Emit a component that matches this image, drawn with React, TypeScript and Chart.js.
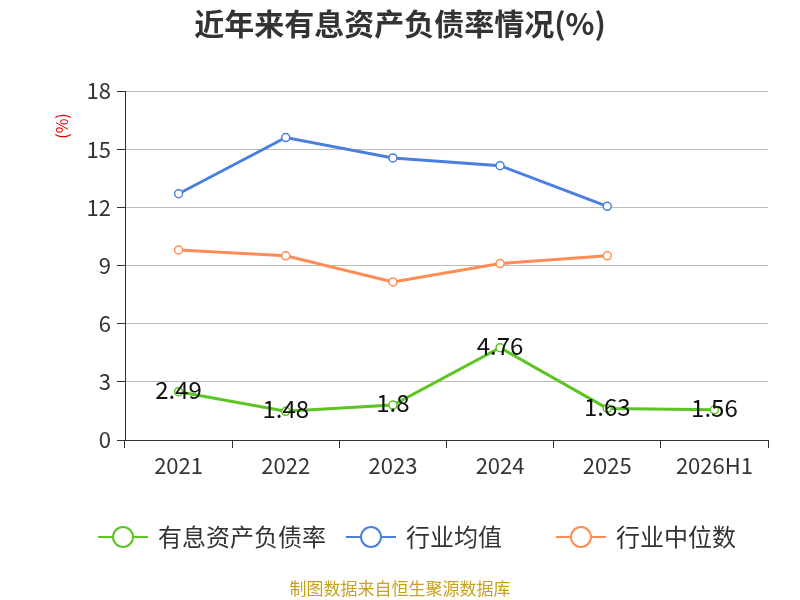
import React, { useEffect, useRef } from "react";
import { Chart, registerables } from "chart.js";
Chart.register(...registerables);

const categories = ["2021", "2022", "2023", "2024", "2025", "2026H1"];
const debtRatio = [2.49, 1.48, 1.8, 4.76, 1.63, 1.56];
const industryAvg = [12.7, 15.6, 14.55, 14.15, 12.05, null];
const industryMedian = [9.8, 9.5, 8.15, 9.1, 9.5, null];
const yTicks = [0, 3, 6, 9, 12, 15, 18];
const seriesNames = ["有息资产负债率", "行业均值", "行业中位数"];
const colors = ["#5cc423", "#4a7fe0", "#ff8c55"];
const FONT = '"Noto Sans CJK SC", "Noto Sans", sans-serif';

const overlay = {
  id: "overlay",
  afterDraw(chart: any) {
    const ctx = chart.ctx;
    ctx.save();
    ctx.fillStyle = "#333";
    ctx.font = `bold 30px ${FONT}`;
    ctx.textAlign = "center";
    ctx.textBaseline = "middle";
    ctx.fillText("近年来有息资产负债率情况(%)", 400, 24);
    ctx.save();
    ctx.translate(62, 126);
    ctx.rotate(-Math.PI / 2);
    ctx.fillStyle = "#e00";
    ctx.font = `16px ${FONT}`;
    ctx.fillText("(%)", 0, 0);
    ctx.restore();
    const meta = chart.getDatasetMeta(0);
    ctx.fillStyle = "#111";
    ctx.font = `24px ${FONT}`;
    meta.data.forEach((p: any, i: number) => {
      ctx.fillText(String(debtRatio[i]), p.x, p.y - 2);
    });
    const xs = [98, 346, 556];
    xs.forEach((x, i) => {
      ctx.strokeStyle = colors[i];
      ctx.lineWidth = 2;
      ctx.beginPath();
      ctx.moveTo(x, 537);
      ctx.lineTo(x + 50, 537);
      ctx.stroke();
      ctx.beginPath();
      ctx.arc(x + 25, 537, 10, 0, Math.PI * 2);
      ctx.fillStyle = "#fff";
      ctx.fill();
      ctx.stroke();
      ctx.fillStyle = "#333";
      ctx.font = `24px ${FONT}`;
      ctx.textAlign = "left";
      ctx.fillText(seriesNames[i], x + 60, 537);
    });
    ctx.textAlign = "center";
    ctx.fillStyle = "#c8a020";
    ctx.font = `17px ${FONT}`;
    ctx.fillText("制图数据来自恒生聚源数据库", 400, 589);
    ctx.restore();
  },
};

export default function App() {
  const ref = useRef<HTMLCanvasElement>(null);
  useEffect(() => {
    const mk = (data: any[], i: number) => ({
      label: seriesNames[i],
      data,
      borderColor: colors[i],
      backgroundColor: "#fff",
      pointBackgroundColor: "#fff",
      pointBorderColor: colors[i],
      pointRadius: 4,
      pointBorderWidth: 1.5,
      borderWidth: 3,
      tension: 0,
    });
    const chart = new Chart(ref.current!, {
      type: "line",
      data: {
        labels: categories,
        datasets: [mk(debtRatio, 0), mk(industryAvg, 1), mk(industryMedian, 2)],
      },
      options: {
        animation: false,
        responsive: false,
        layout: { padding: { left: 0, right: 32, top: 91, bottom: 110 } },
        plugins: { legend: { display: false }, tooltip: { enabled: false } },
        scales: {
          x: {
            offset: true,
            afterFit: (s: any) => { s.height = 50; },
            grid: { offset: true, drawOnChartArea: false, color: "#333", tickLength: 8 },
            border: { color: "#333", width: 1 },
            ticks: { color: "#333", font: { size: 22, family: FONT }, padding: 4 },
          },
          y: {
            min: 0,
            max: 18,
            afterFit: (s: any) => { s.width = 125; },
            afterBuildTicks: (s: any) => { s.ticks = yTicks.map((v) => ({ value: v })); },
            grid: { color: "#bbb", tickColor: "#333", tickLength: 8, tickBorderDash: [] },
            border: { color: "#333" },
            ticks: { color: "#333", font: { size: 22, family: FONT }, padding: 6 },
          },
        },
      },
      plugins: [overlay],
    });
    (chart.options.scales as any).y.grid.borderDash = [6, 4];
    chart.update();
    return () => chart.destroy();
  }, []);
  return (
    <div style={{ position: "absolute", left: 0, top: 0 }}>
      <canvas ref={ref} width={800} height={600} />
    </div>
  );
}
